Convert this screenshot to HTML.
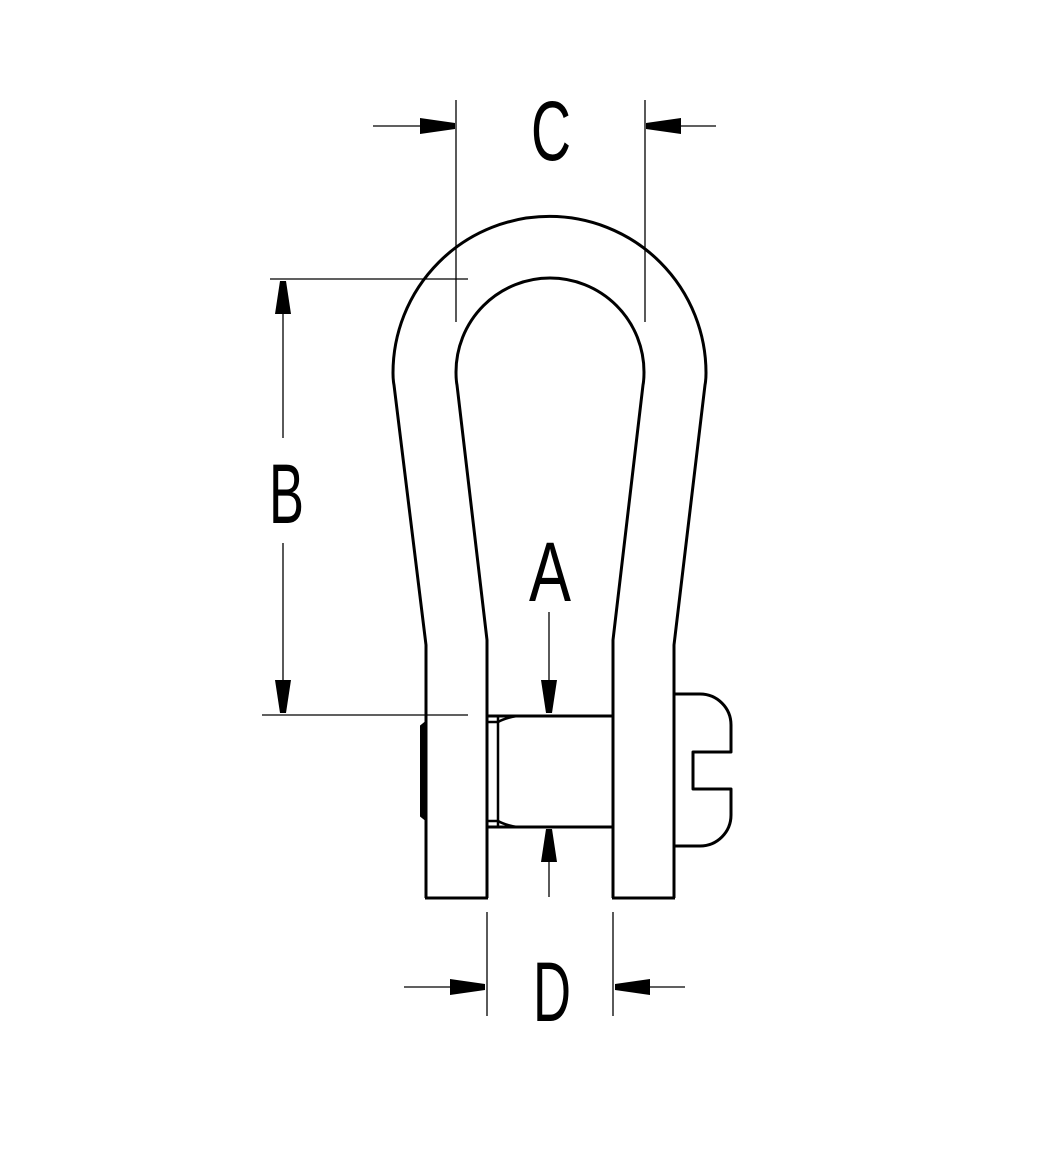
<!DOCTYPE html>
<html><head><style>html,body{margin:0;padding:0;background:#fff}svg{display:block}</style></head>
<body>
<svg width="1054" height="1154" viewBox="0 0 1054 1154" xmlns="http://www.w3.org/2000/svg">
<g fill="none" stroke="#000" stroke-width="3" stroke-linejoin="round">
<path d="M426,898 L426,645 L394,385 C393,380 393,377 393,373 A156.5,156.5 0 1 1 706,373 C706,377 706,380 705,385 L674,645 L674,898"/>
<path d="M487,898 L487,640 L457,385 C456,380 456,377 456,372 A94,94 0 1 1 644,372 C644,377 644,380 643,385 L613,640 L613,898"/>
<line x1="425" y1="898" x2="488" y2="898"/>
<line x1="612" y1="898" x2="675" y2="898"/>
<line x1="487" y1="716" x2="613" y2="716"/>
<line x1="487" y1="827" x2="613" y2="827"/>
<line x1="498" y1="716" x2="498" y2="827" stroke-width="2.5"/>
<line x1="487" y1="722" x2="498" y2="722" stroke-width="2.5"/>
<line x1="487" y1="821" x2="498" y2="821" stroke-width="2.5"/>
<path d="M498,722 Q505,718 517,716" stroke-width="2.5"/>
<path d="M498,821 Q505,825 517,827" stroke-width="2.5"/>
<path d="M674,694 L700,694 A31,31 0 0 1 731,725 L731,752 L693,752 L693,789 L731,789 L731,815 A31,31 0 0 1 700,846 L674,846"/>
</g>
<path d="M421,726 L426,722 L426,820 L421,816 Z" fill="#000" stroke="#000" stroke-width="2"/>
<g stroke="#000" stroke-width="1.3" fill="none">
<line x1="456" y1="100" x2="456" y2="322"/>
<line x1="645" y1="100" x2="645" y2="322"/>
<line x1="373" y1="126" x2="425" y2="126"/>
<line x1="680" y1="126" x2="716" y2="126"/>
<line x1="270" y1="279" x2="468" y2="279"/>
<line x1="262" y1="715" x2="468" y2="715"/>
<line x1="283" y1="310" x2="283" y2="438"/>
<line x1="283" y1="543" x2="283" y2="682"/>
<line x1="549" y1="612" x2="549" y2="680"/>
<line x1="549" y1="862" x2="549" y2="897"/>
<line x1="487" y1="912" x2="487" y2="1016"/>
<line x1="613" y1="912" x2="613" y2="1016"/>
<line x1="404" y1="987" x2="455" y2="987"/>
<line x1="648" y1="987" x2="685" y2="987"/>
</g>
<g fill="#000">
<polygon points="455,123 455,129 420,134 420,118"/>
<polygon points="646,123 646,129 681,134 681,118"/>
<polygon points="280,281 286,281 291,314 275,314"/>
<polygon points="280,713 286,713 291,680 275,680"/>
<polygon points="546,713 552,713 557,680 541,680"/>
<polygon points="546,829 552,829 557,862 541,862"/>
<polygon points="485,984 485,990 450,995 450,979"/>
<polygon points="615,984 615,990 650,995 650,979"/>
</g>
<g font-family="Liberation Sans, sans-serif" font-size="84" fill="#000">
<text x="531" y="160" textLength="40" lengthAdjust="spacingAndGlyphs">C</text>
<text x="269" y="523" textLength="35" lengthAdjust="spacingAndGlyphs">B</text>
<text x="529" y="601" textLength="42" lengthAdjust="spacingAndGlyphs">A</text>
<text x="533" y="1021" textLength="38" lengthAdjust="spacingAndGlyphs">D</text>
</g>
</svg>
</body></html>
